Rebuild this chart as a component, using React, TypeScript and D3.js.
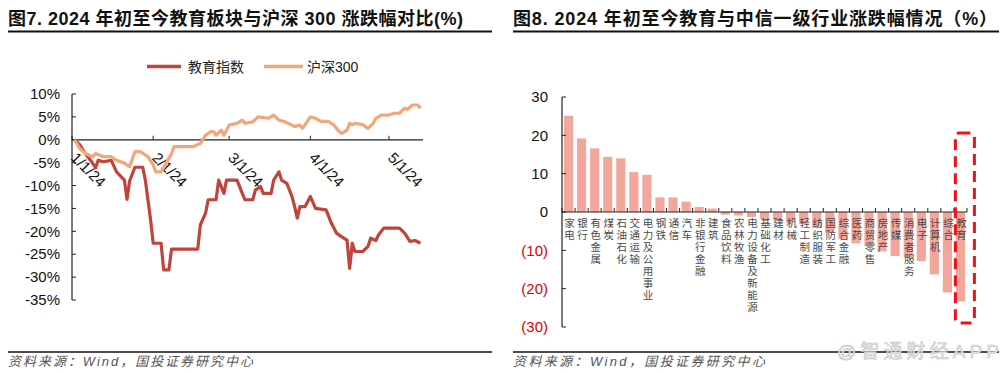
import React from "react";
import * as d3 from "d3";

// ---- left chart: education index vs CSI 300, cumulative change (%) ----
const eduSeries: [string, number][] = [
  ["2024-01-02", 0], ["2024-01-04", -1.1], ["2024-01-06", -3.0], ["2024-01-08", -4.4],
  ["2024-01-10", -6.1], ["2024-01-11", -4.5], ["2024-01-13", -4.8], ["2024-01-16", -4.5],
  ["2024-01-18", -7.0], ["2024-01-20", -8.2], ["2024-01-21", -8.8], ["2024-01-22", -13.0],
  ["2024-01-23", -9.0], ["2024-01-25", -6.0], ["2024-01-28", -6.0], ["2024-01-29", -8.8],
  ["2024-01-31", -17.5], ["2024-02-01", -22.6], ["2024-02-04", -22.6], ["2024-02-05", -28.4],
  ["2024-02-07", -28.4], ["2024-02-08", -23.9], ["2024-02-18", -23.9], ["2024-02-19", -18.6],
  ["2024-02-21", -16.0], ["2024-02-22", -13.1], ["2024-02-25", -13.1], ["2024-02-26", -8.8],
  ["2024-02-28", -11.7], ["2024-02-29", -8.8], ["2024-03-04", -8.8], ["2024-03-06", -11.7],
  ["2024-03-07", -13.1], ["2024-03-10", -13.1], ["2024-03-11", -11.0], ["2024-03-13", -10.2],
  ["2024-03-14", -11.7], ["2024-03-17", -11.7], ["2024-03-18", -8.8], ["2024-03-20", -7.0],
  ["2024-03-21", -8.8], ["2024-03-23", -9.5], ["2024-03-25", -12.4], ["2024-03-26", -14.6],
  ["2024-03-27", -17.1], ["2024-03-28", -14.6], ["2024-03-30", -14.6], ["2024-04-01", -12.4],
  ["2024-04-03", -15.0], ["2024-04-07", -15.3], ["2024-04-09", -18.2], ["2024-04-11", -20.4],
  ["2024-04-13", -21.2], ["2024-04-15", -21.9], ["2024-04-16", -28.1], ["2024-04-17", -22.6],
  ["2024-04-18", -24.4], ["2024-04-21", -24.4], ["2024-04-23", -23.3], ["2024-04-24", -21.5],
  ["2024-04-26", -22.0], ["2024-04-27", -20.8], ["2024-04-29", -19.3], ["2024-05-05", -19.3],
  ["2024-05-07", -20.4], ["2024-05-09", -22.2], ["2024-05-11", -22.0], ["2024-05-13", -22.6],
];

const hs300Series: [string, number][] = [
  ["2024-01-02", 0], ["2024-01-04", -1.9], ["2024-01-06", -3.0], ["2024-01-09", -3.7],
  ["2024-01-10", -3.0], ["2024-01-13", -3.7], ["2024-01-16", -3.7], ["2024-01-18", -4.5],
  ["2024-01-21", -5.1], ["2024-01-23", -5.9], ["2024-01-25", -2.6], ["2024-01-27", -2.6],
  ["2024-01-30", -3.7], ["2024-02-01", -5.5], ["2024-02-02", -7.0], ["2024-02-04", -7.0],
  ["2024-02-06", -5.1], ["2024-02-08", -3.0], ["2024-02-09", -1.5], ["2024-02-16", -1.5],
  ["2024-02-19", -0.8], ["2024-02-21", 1.0], ["2024-02-23", 1.8], ["2024-02-24", 1.8],
  ["2024-02-25", 1.0], ["2024-02-27", 2.1], ["2024-02-28", 1.0], ["2024-03-01", 3.2],
  ["2024-03-04", 3.6], ["2024-03-06", 4.3], ["2024-03-07", 3.6], ["2024-03-10", 3.9],
  ["2024-03-12", 5.0], ["2024-03-16", 4.7], ["2024-03-18", 5.4], ["2024-03-20", 4.3],
  ["2024-03-22", 4.0], ["2024-03-25", 3.2], ["2024-03-26", 2.9], ["2024-03-28", 3.2],
  ["2024-03-29", 2.5], ["2024-04-01", 5.0], ["2024-04-03", 4.7], ["2024-04-05", 4.0],
  ["2024-04-08", 4.0], ["2024-04-10", 3.2], ["2024-04-12", 1.8], ["2024-04-13", 1.4],
  ["2024-04-15", 2.1], ["2024-04-16", 3.6], ["2024-04-17", 3.3], ["2024-04-18", 3.6],
  ["2024-04-21", 3.3], ["2024-04-23", 2.5], ["2024-04-25", 3.6], ["2024-04-26", 4.7],
  ["2024-04-28", 5.4], ["2024-05-01", 5.4], ["2024-05-03", 5.8], ["2024-05-05", 5.8],
  ["2024-05-07", 6.9], ["2024-05-08", 6.6], ["2024-05-10", 7.6], ["2024-05-12", 7.6],
  ["2024-05-13", 6.9],
];

const dateTicks = ["2024-01-01", "2024-02-01", "2024-03-01", "2024-04-01", "2024-05-01"];
const pctTicks = [10, 5, 0, -5, -10, -15, -20, -25, -30, -35];

// ---- right chart: CITIC level-1 industries YTD change (%) ----
const industries = [
  "家电", "银行", "有色金属", "煤炭", "石油石化", "交通运输", "电力及公用事业", "钢铁",
  "通信", "汽车", "非银行金融", "建筑", "食品饮料", "农林牧渔", "电力设备及新能源",
  "基础化工", "建材", "机械", "轻工制造", "纺织服装", "国防军工", "综合金融", "医药",
  "商贸零售", "房地产", "传媒", "消费者服务", "电子", "计算机", "综合", "教育",
];
const industryChange = [
  25.1, 19.2, 16.6, 14.4, 14.0, 10.4, 9.7, 3.8, 3.8, 2.7, 1.3, 0.9, -0.7, -0.9, -1.3,
  -1.8, -2.3, -2.8, -3.2, -4.1, -5.3, -7.0, -8.2, -8.8, -10.3, -11.5, -11.9, -12.8,
  -16.3, -21.0, -23.3,
];
const changeTicks = [30, 20, 10, 0, -10, -20, -30];

const NUM_FONT = "'Liberation Sans', Arial, sans-serif";
const CJK_FONT = "'Liberation Sans', 'Noto Sans CJK SC', sans-serif";

const parse = d3.timeParse("%Y-%m-%d");
const fmtDate = d3.timeFormat("%-m/%-d/%y");

export default function App() {
  // left scales
  const x = d3.scaleTime().domain([parse("2024-01-01"), parse("2024-05-14")]).range([72, 423]);
  const y = d3.scaleLinear().domain([10, -35]).range([94, 300]);
  const line = d3
    .line<[string, number]>()
    .x((d) => x(parse(d[0])))
    .y((d) => y(d[1]));

  // right scales
  const xb = d3.scaleBand().domain(industries).range([562, 967]).paddingInner(0.3).paddingOuter(0.15);
  const yb = d3.scaleLinear().domain([30, -30]).range([97, 327]);
  const step = xb.step();
  const y0 = yb(0);
  const eduX = xb(industries[industries.length - 1]) ?? 0;

  return (
    <svg
      width={1006}
      height={373}
      style={{ position: "absolute", left: 0, top: 0, background: "#fff" }}
    >
      {/* titles */}
      <text x={8} y={25} fontFamily={CJK_FONT} fontWeight="bold" fontSize={18} fill="#111"
        textLength={455} lengthAdjust="spacing">
        图7. 2024 年初至今教育板块与沪深 300 涨跌幅对比(%)
      </text>
      <line x1={8} x2={492} y1={31.5} y2={31.5} stroke="#111" strokeWidth={2} />
      <text x={513} y={25} fontFamily={CJK_FONT} fontWeight="bold" fontSize={18} fill="#111"
        textLength={484} lengthAdjust="spacing">
        图8. 2024 年初至今教育与中信一级行业涨跌幅情况（%）
      </text>
      <line x1={513} x2={999} y1={31.5} y2={31.5} stroke="#111" strokeWidth={2} />

      {/* left legend */}
      <line x1={147} x2={181} y1={66.5} y2={66.5} stroke="#C0433C" strokeWidth={3.5} />
      <text x={188} y={71.5} fontFamily={CJK_FONT} fontSize={14} fill="#222">教育指数</text>
      <line x1={264} x2={303} y1={66.5} y2={66.5} stroke="#F2A67A" strokeWidth={3.5} />
      <text x={307} y={71.5} fontFamily={CJK_FONT} fontSize={14} fill="#222">沪深300</text>

      {/* left axes */}
      <line x1={72} x2={72} y1={y(10)} y2={y(-35)} stroke="#222" strokeWidth={1.2} />
      {pctTicks.map((t) => (
        <g key={t}>
          <line x1={72} x2={76} y1={y(t)} y2={y(t)} stroke="#222" strokeWidth={1} />
          <text x={60} y={y(t)} dy="0.35em" textAnchor="end" fontFamily={NUM_FONT} fontSize={15} fill="#111">
            {t}%
          </text>
        </g>
      ))}
      <line x1={72} x2={423} y1={y(0)} y2={y(0)} stroke="#222" strokeWidth={1.2} />
      {dateTicks.map((d) => {
        const tx = x(parse(d));
        return (
          <g key={d}>
            <line x1={tx} x2={tx} y1={y(0)} y2={y(0) - 4} stroke="#222" strokeWidth={1} />
            <text
              transform={`translate(${tx - 2},${y(0) + 19}) rotate(45)`}
              fontFamily={NUM_FONT}
              fontSize={15}
              fill="#111"
            >
              {fmtDate(parse(d))}
            </text>
          </g>
        );
      })}

      {/* left lines */}
      <path d={line(eduSeries)} fill="none" stroke="#C0433C" strokeWidth={3.2} strokeLinejoin="round" />
      <path d={line(hs300Series)} fill="none" stroke="#F2A67A" strokeWidth={3.2} strokeLinejoin="round" />

      {/* right bars */}
      {industries.map((c, i) => {
        const v = industryChange[i];
        return (
          <rect key={c} x={xb(c)} y={Math.min(yb(v), y0)} width={xb.bandwidth()}
            height={Math.abs(yb(v) - y0)} fill="#F2A69C" />
        );
      })}

      {/* right axes */}
      <line x1={562} x2={562} y1={yb(30)} y2={yb(-30)} stroke="#222" strokeWidth={1.2} />
      {changeTicks.map((t) => (
        <g key={t}>
          <line x1={562} x2={566} y1={yb(t)} y2={yb(t)} stroke="#222" strokeWidth={1} />
          <text x={548} y={yb(t)} dy="0.35em" textAnchor="end" fontFamily={NUM_FONT} fontSize={15}
            fill={t < 0 ? "#E00000" : "#111"}>
            {t < 0 ? `(${Math.abs(t)})` : t}
          </text>
        </g>
      ))}
      <line x1={562} x2={967} y1={y0} y2={y0} stroke="#222" strokeWidth={1.2} />
      {d3.range(industries.length + 1).map((i) => {
        const bx = 562 + i * step;
        return <line key={i} x1={bx} x2={bx} y1={y0} y2={y0 - 4} stroke="#222" strokeWidth={1} />;
      })}

      {/* vertical category labels */}
      {industries.map((c) => {
        const cx = (xb(c) ?? 0) + xb.bandwidth() / 2 + 1;
        return (
          <text key={c} x={cx} y={218} fontFamily="'Noto Sans CJK SC', sans-serif"
            fontSize={10.5} letterSpacing={1.5} fill="#4a4a4a"
            style={{ writingMode: "vertical-rl", textOrientation: "upright" }}>
            {c}
          </text>
        );
      })}

      {/* highlight box around 教育 */}
      <rect x={eduX - 0.5} y={133} width={19} height={190} rx={4} fill="none"
        stroke="#E8141B" strokeWidth={3} strokeDasharray="11 6" />

      {/* sources */}
      <line x1={8} x2={492} y1={352} y2={352} stroke="#111" strokeWidth={1.5} />
      <text x={8} y={366} fontFamily={CJK_FONT} fontStyle="italic" fontSize={13} fill="#555"
        textLength={245} lengthAdjust="spacing">
        资料来源：Wind，国投证券研究中心
      </text>
      <line x1={513} x2={999} y1={352} y2={352} stroke="#111" strokeWidth={1.5} />
      <text x={513} y={366} fontFamily={CJK_FONT} fontStyle="italic" fontSize={13} fill="#555"
        textLength={252} lengthAdjust="spacing">
        资料来源：Wind，国投证券研究中心
      </text>
      <text x={837} y={358} fontFamily={CJK_FONT} fontSize={19} fill="#e4e4e4" stroke="#c8c8c8"
        strokeWidth={0.6} textLength={162} lengthAdjust="spacing">
        @智通财经APP
      </text>
    </svg>
  );
}
